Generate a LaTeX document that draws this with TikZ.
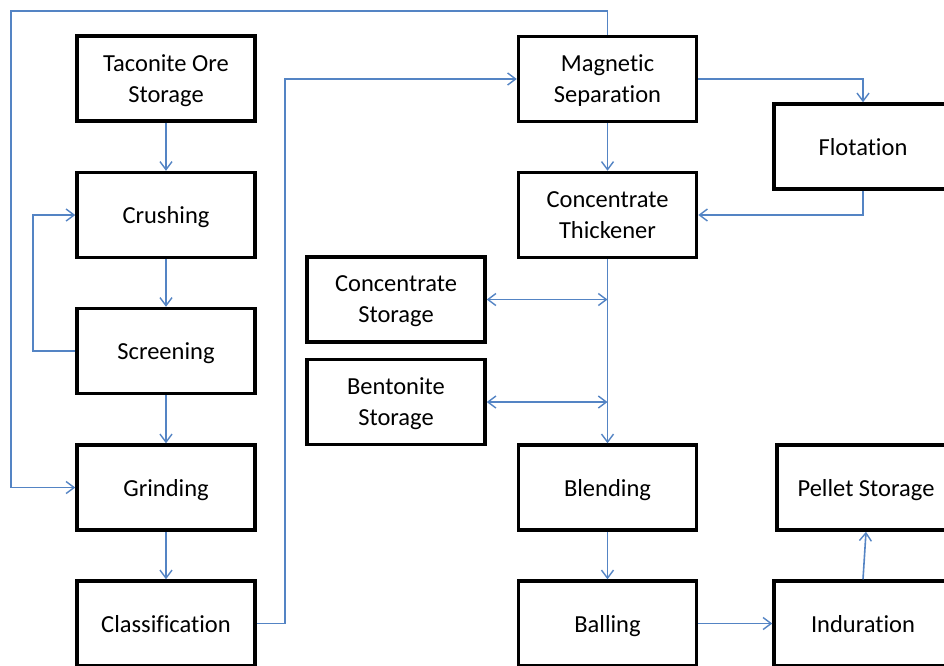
\documentclass[tikz,border=0pt]{standalone}
\usepackage{fontspec}
\setmainfont[Ligatures=NoCommon]{Carlito}
\usetikzlibrary{arrows.meta}
\definecolor{conn}{RGB}{84,132,196}
\tikzset{
  box/.style={draw=black, line width=3.5pt, fill=white, minimum width=178pt, minimum height=85pt,
    align=center, inner sep=0pt, text depth=0pt, font=\fontsize{24.5}{31}\selectfont},
  arr/.style={draw=conn, line width=1.6pt, -{Straight Barb[length=8pt,width=12pt,line width=1.4pt]}},
  darr/.style={draw=conn, line width=1.6pt, {Straight Barb[length=8pt,width=12pt,line width=1.4pt]}-{Straight Barb[length=8pt,width=12pt,line width=1.4pt]}},
}
\begin{document}
\begin{tikzpicture}[x=1pt,y=-1pt]
\clip (0,0) rectangle (944,665);
\fill[white] (0,0) rectangle (944,665);
% nodes
\node[box] (taco) at (166,78.5) {Taconite Ore\\Storage};
\node[box] (crush) at (166,215) {Crushing};
\node[box] (screen) at (166,351) {Screening};
\node[box] (grind) at (166,487.5) {Grinding};
\node[box] (classif) at (166,623.5) {Classification};
\node[box] (mag) at (607.5,79) {Magnetic\\Separation};
\node[box] (thick) at (607.5,215) {Concentrate\\Thickener};
\node[box] (flot) at (863,146.5) {Flotation};
\node[box] (cstor) at (396,299.5) {Concentrate\\Storage};
\node[box] (bstor) at (396,402) {Bentonite\\Storage};
\node[box] (blend) at (607.5,487.5) {Blending};
\node[box] (ball) at (607.5,623.5) {Balling};
\node[box] (pellet) at (866,487.5) {Pellet Storage};
\node[box] (indur) at (863,623.5) {Induration};
% helper coordinates
\coordinate (tl) at (11,11);
\coordinate (cr) at (285,623.5);
\coordinate (j1) at (thick.south |- cstor.east);
\coordinate (j2) at (thick.south |- bstor.east);
% connectors
\draw[arr] (taco) -- (crush);
\draw[arr] (crush) -- (screen);
\draw[arr] (screen) -- (grind);
\draw[arr] (grind) -- (classif);
\draw[arr] (screen.west) -- ++(-42,0) |- (crush.west);
\draw[arr] (mag.north) |- (tl) |- (grind.west);
\draw[arr] (classif.east) -- (cr) |- (mag.west);
\draw[arr] (mag.east) -| (flot.north);
\draw[arr] (flot.south) |- (thick.east);
\draw[arr] (mag) -- (thick);
\draw[arr] (thick) -- (blend);
\draw[darr] (cstor.east) -- (j1);
\draw[darr] (bstor.east) -- (j2);
\draw[arr] (blend) -- (ball);
\draw[arr] (ball) -- (indur);
\draw[arr] (indur.north) -- (pellet.south);
\end{tikzpicture}
\end{document}
